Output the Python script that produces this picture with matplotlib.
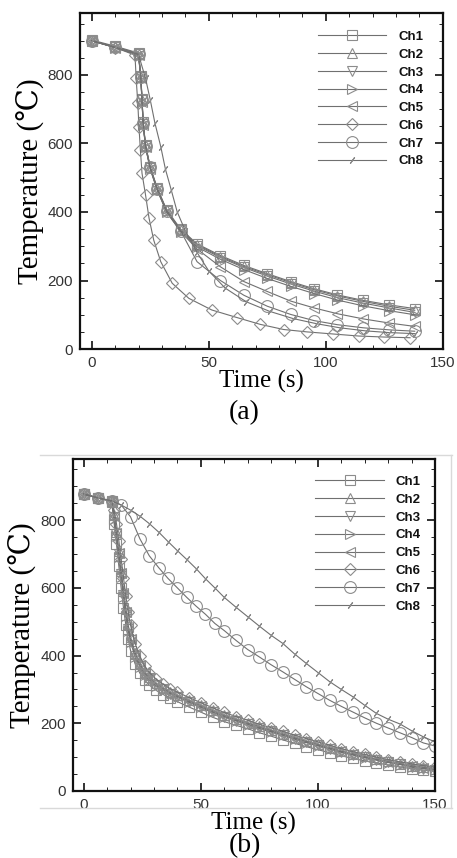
import matplotlib
matplotlib.use("Agg")
import matplotlib.pyplot as plt
from matplotlib.lines import Line2D
from matplotlib.ticker import MultipleLocator

# ── data: panel (a) ────────────────────────────────────────────────────────
time_a = [0, 10, 20, 21, 21.5, 22, 23, 25, 28, 32, 38, 45, 55, 65, 75, 85, 95, 105, 116, 127, 138]
a_ch1 = [902, 884, 864, 798, 730, 662, 596, 532, 470, 407, 350, 307, 273, 244, 220, 197, 176, 158, 142, 129, 118]
a_ch2 = [900, 882, 862, 795, 728, 660, 594, 530, 468, 405, 348, 305, 270, 241, 217, 194, 173, 155, 139, 125, 113]
a_ch3 = [900, 881, 860, 793, 726, 658, 592, 528, 466, 403, 346, 302, 267, 238, 213, 190, 169, 150, 134, 120, 107]
a_ch4 = [900, 880, 858, 790, 722, 655, 590, 526, 464, 400, 343, 298, 262, 232, 206, 183, 162, 143, 126, 112, 100]
a_ch5 = [900, 880, 858, 790, 722, 655, 590, 526, 464, 400, 343, 292, 240, 197, 168, 140, 120, 103, 88, 76, 66]
a_ch7 = [900, 881, 860, 794, 727, 660, 594, 530, 468, 404, 345, 255, 200, 157, 125, 101, 83, 71, 62, 56, 52]

time_a6 = [0, 10, 18.5, 19, 19.7, 20.2, 20.8, 21.5, 23, 24.5, 26.5, 29.5, 34.4, 41.5, 51.3,
           62, 72, 82, 92, 103, 114, 125, 136]
a_ch6 = [900, 880, 858, 790, 717, 649, 581, 513, 450, 382, 318, 255, 192, 148, 114,
         92, 72, 57, 50, 44, 38, 35, 33]

time_a8 = [0, 10, 20, 23, 25, 27, 29.5, 31.5, 34, 36.5, 40, 45, 50, 57, 66, 76, 86, 96, 106, 117, 127, 138]
a_ch8 = [900, 880, 860, 790, 728, 660, 591, 525, 464, 401, 345, 282, 228, 178, 138, 110, 89, 74, 62, 53, 48, 45]

# ── data: panel (b) ────────────────────────────────────────────────────────
time_b = [0, 6, 12, 13, 14, 15, 16, 17, 18, 19, 20, 22, 24, 26, 28, 31, 34, 37, 40, 45, 50,
          55, 60, 65, 70, 75, 80, 85, 90, 95, 100, 105, 110, 115, 120, 125, 130, 135, 140, 145, 150]
b_ch1 = [877, 866, 855, 790, 730, 665, 600, 540, 490, 450, 415, 375, 348, 328, 313, 297, 285, 274, 264, 248, 233,
         218, 205, 194, 184, 172, 162, 151, 141, 131, 122, 113, 104, 96, 89, 83, 77, 71, 66, 62, 58]
b_ch2 = [877, 866, 857, 815, 765, 708, 650, 592, 538, 492, 455, 408, 377, 352, 336, 318, 305, 293, 283, 268, 253,
         238, 225, 213, 202, 191, 180, 169, 158, 148, 138, 128, 118, 110, 102, 95, 88, 81, 75, 70, 66]
b_ch3 = [877, 866, 857, 810, 760, 700, 640, 580, 525, 480, 445, 400, 370, 345, 335, 312, 300, 288, 278, 263, 248,
         233, 220, 208, 198, 186, 176, 165, 155, 144, 135, 125, 115, 107, 99, 92, 85, 79, 70, 66, 63]
b_ch4 = [877, 866, 857, 805, 752, 692, 632, 572, 518, 474, 440, 396, 366, 342, 328, 310, 298, 286, 277, 262, 247,
         232, 219, 207, 196, 185, 174, 164, 153, 143, 133, 124, 114, 106, 98, 91, 84, 78, 72, 67, 63]
b_ch5 = [877, 866, 857, 812, 762, 703, 645, 585, 530, 485, 450, 404, 373, 348, 333, 315, 302, 290, 280, 265, 250,
         235, 222, 210, 200, 188, 178, 167, 156, 146, 136, 126, 117, 108, 100, 93, 86, 80, 74, 69, 65]
b_ch6 = [877, 866, 857, 830, 790, 740, 685, 630, 575, 528, 490, 435, 398, 370, 350, 330, 315, 302, 292, 276, 261,
         246, 232, 220, 209, 197, 187, 176, 165, 155, 145, 135, 125, 116, 108, 100, 93, 86, 80, 75, 70]

time_b78 = [0, 6, 12, 16, 20, 24, 28, 32, 36, 40, 44, 48, 52, 56, 60, 65, 70, 75, 80, 85, 90,
            95, 100, 105, 110, 115, 120, 125, 130, 135, 140, 145, 150]
b_ch7 = [877, 866, 857, 845, 810, 745, 695, 660, 628, 600, 572, 546, 522, 495, 474, 445, 418, 396, 373, 352, 330,
         308, 288, 268, 250, 233, 216, 200, 186, 172, 158, 142, 133]
b_ch8 = [877, 866, 857, 845, 830, 812, 790, 765, 737, 710, 684, 657, 627, 600, 572, 543, 515, 487, 460, 436, 405,
         377, 350, 323, 300, 278, 253, 229, 212, 198, 178, 160, 145]

labels = ["Ch1", "Ch2", "Ch3", "Ch4", "Ch5", "Ch6", "Ch7", "Ch8"]
markers = ["s", "^", "v", ">", "<", "D", "o", (2, 2, -35)]
msizes = [6.5, 7, 7, 7, 7, 6, 8.5, 5.5]

LINE_C = "#707070"
MARK_C = "#8c8c8c"
SANS = "Liberation Sans"
SERIF = ["Liberation Serif", "DejaVu Serif", "DejaVu Sans"]

fig = plt.figure(figsize=(4.57, 8.58), dpi=100)


def style_axes(ax):
    ax.set_xlim(-4.7, 150)
    ax.set_ylim(0, 980)
    ax.xaxis.set_major_locator(MultipleLocator(50))
    ax.xaxis.set_minor_locator(MultipleLocator(10))
    ax.yaxis.set_major_locator(MultipleLocator(200))
    ax.yaxis.set_minor_locator(MultipleLocator(50))
    ax.tick_params(which="both", direction="in", top=True, right=True, color="#222")
    ax.tick_params(which="major", length=6, width=1.3)
    ax.tick_params(which="minor", length=3, width=0.7)
    ax.tick_params(axis="both", which="major", labelsize=11, labelcolor="#333", pad=5)
    for lab in ax.get_xticklabels() + ax.get_yticklabels():
        lab.set_family(SANS)
    for sp in ax.spines.values():
        sp.set_linewidth(1.6)
        sp.set_color("#111")
    ax.set_xlabel("Time (s)", family=SERIF, fontsize=18, labelpad=0)
    ax.set_ylabel("Temperature (℃)", family=SERIF, fontsize=21, labelpad=2)


def draw(ax, series):
    for (t, v), lab, mk, ms in zip(series, labels, markers, msizes):
        ax.plot(t, v, color=LINE_C, lw=0.8, marker=mk, ms=ms, mfc="none",
                mec=MARK_C, mew=0.8, label=lab)


def add_legend(ax, x, y):
    leg = ax.legend(loc="upper left", bbox_to_anchor=(x, y), frameon=False,
                    handlelength=5.2, handletextpad=0.9, labelspacing=0.42,
                    borderpad=0, borderaxespad=0, numpoints=1,
                    prop={"family": SANS, "weight": "bold", "size": 9.5})
    for txt in leg.get_texts():
        txt.set_color("#111")


# (a)
ax1 = fig.add_axes([0.175, 0.5932, 0.794, 0.3913])
draw(ax1, [(time_a, a_ch1), (time_a, a_ch2), (time_a, a_ch3), (time_a, a_ch4),
           (time_a, a_ch5), (time_a6, a_ch6), (time_a, a_ch7), (time_a8, a_ch8)])
style_axes(ax1)
ax1.set_xlim(-5, 150)
add_legend(ax1, 0.655, 0.948)

# (b)
ax2 = fig.add_axes([0.159, 0.0781, 0.793, 0.3866])
draw(ax2, [(time_b, b_ch1), (time_b, b_ch2), (time_b, b_ch3), (time_b, b_ch4),
           (time_b, b_ch5), (time_b, b_ch6), (time_b78, b_ch7), (time_b78, b_ch8)])
style_axes(ax2)
add_legend(ax2, 0.67, 0.950)

# captions
fig.text(0.535, 1 - 413 / 858, "(a)", family=SERIF, fontsize=20, ha="center", va="center")
fig.text(0.535, 1 - 846 / 858, "(b)", family=SERIF, fontsize=20, ha="center", va="center")

# faint frame lines left over from the scanned figure (b)
for xs, ys in [((40 / 457, 452 / 457), (1 - 455 / 858, 1 - 455 / 858)),
               ((40 / 457, 452 / 457), (1 - 808 / 858, 1 - 808 / 858)),
               ((451 / 457, 451 / 457), (1 - 455 / 858, 1 - 808 / 858))]:
    fig.add_artist(Line2D(xs, ys, transform=fig.transFigure, color="#d9d9d9", lw=1))

fig.savefig("out.png", dpi=100)
